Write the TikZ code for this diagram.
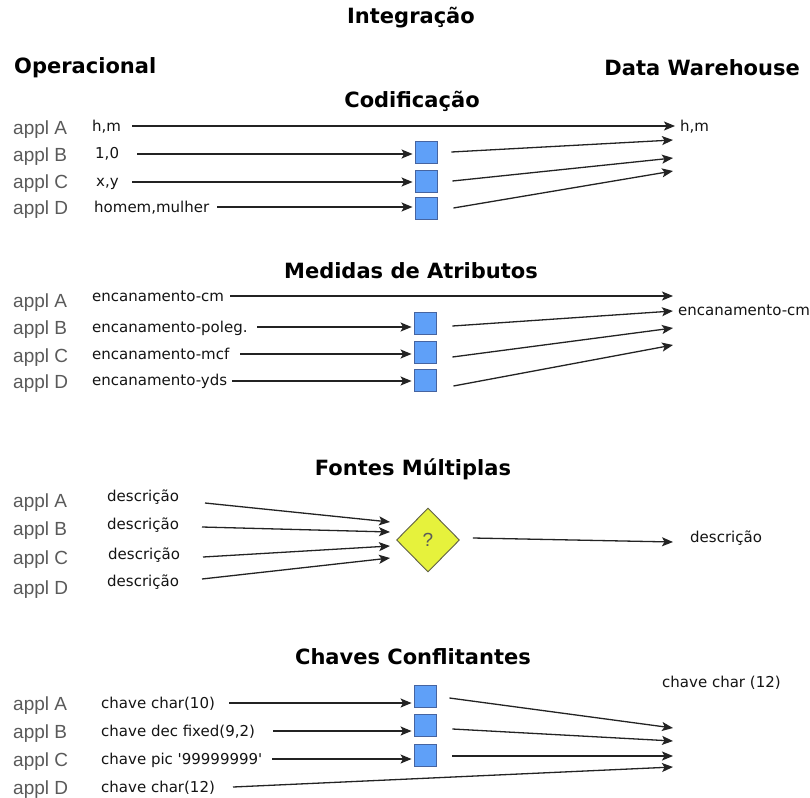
\documentclass[tikz,border=0pt]{standalone}
\usepackage{fontspec}
\usetikzlibrary{arrows.meta,shapes.geometric}
\newfontfamily\applfont{Liberation Sans}
\newfontfamily\valfont{DejaVu Sans}
\newfontfamily\headfont{DejaVu Sans}
\definecolor{boxblue}{RGB}{95,160,248}
\definecolor{boxedge}{RGB}{70,100,160}
\definecolor{diayellow}{RGB}{230,242,60}
\definecolor{diaedge}{RGB}{95,95,70}
\definecolor{appgray}{RGB}{90,90,90}
\definecolor{valink}{RGB}{20,20,20}
\definecolor{arrink}{RGB}{35,35,35}
\tikzset{
  head/.style={font=\headfont\bfseries\fontsize{21}{21}\selectfont, inner sep=0pt, text=black},
  appl/.style={font=\applfont\fontsize{19}{19}\selectfont, text=appgray, inner sep=0pt, anchor=base west},
  val/.style={font=\valfont\fontsize{15}{15}\selectfont, text=valink, inner sep=0pt, anchor=base west},
  conv/.style={draw=boxedge, fill=boxblue, line width=0.9pt, minimum width=22pt, minimum height=22pt, inner sep=0pt},
  merge/.style={diamond, aspect=1, draw=diaedge, fill=diayellow, line width=0.9pt, minimum width=63pt, minimum height=64pt, inner sep=0pt,
    font=\applfont\fontsize{19}{19}\selectfont, text=appgray},
  arr/.style={draw=arrink, line width=1.3pt, -{Stealth[length=11pt,width=9pt,inset=2.5pt]}},
}
\begin{document}
\begin{tikzpicture}[x=1pt,y=-1pt]
\useasboundingbox[fill=white] (0,0) rectangle (810,797);

% ---------- headings ----------
\node[head] (hInt) at (411,18) {Integração};
\node[head, anchor=west] (hOp) at (14,68) {Operacional};
\node[head, anchor=east] (hDW) at (800,68) {Data Warehouse};
\node[head] (hCod) at (412,101) {Codificação};
\node[head] (hMed) at (411,271) {Medidas de Atributos};
\node[head] (hFon) at (413,469) {Fontes Múltiplas};
\node[head] (hCha) at (413,657) {Chaves Conflitantes};

% ---------- Codificação ----------
\node[appl] (a1A) at (13,134) {appl A};
\node[appl] (a1B) at (13,161) {appl B};
\node[appl] (a1C) at (13,188) {appl C};
\node[appl] (a1D) at (13,214) {appl D};
\node[val] (v1A) at (92,131) {h,m};
\node[val] (v1B) at (95,158) {1,0};
\node[val] (v1C) at (96,186) {x,y};
\node[val] (v1D) at (94,212) {homem,mulher};
\node[conv] (b1B) at (426,152) {};
\node[conv] (b1C) at (426,181) {};
\node[conv] (b1D) at (426,208) {};
\node[val] (t1) at (680,131) {h,m};
\coordinate (s1A) at (132,126);
\coordinate (s1B) at (137,154);
\coordinate (s1C) at (132,182);
\coordinate (s1D) at (217,207);
\coordinate (e1A) at (675,126);
\coordinate (e1B) at (673,140);
\coordinate (e1C) at (673,158);
\coordinate (e1D) at (673,171);
\draw[arr] (s1A) -- (e1A);
\draw[arr, shorten >=2pt] (s1B) -- (s1B -| b1B.west);
\draw[arr, shorten >=2pt] (s1C) -- (s1C -| b1C.west);
\draw[arr, shorten >=2pt] (s1D) -- (s1D -| b1D.west);
\draw[arr] ([xshift=14pt]b1B.east) -- (e1B);
\draw[arr] ([xshift=15pt]b1C.east) -- (e1C);
\draw[arr] ([xshift=16pt]b1D.east) -- (e1D);

% ---------- Medidas de Atributos ----------
\node[appl] (a2A) at (13,307) {appl A};
\node[appl] (a2B) at (13,334) {appl B};
\node[appl] (a2C) at (13,362) {appl C};
\node[appl] (a2D) at (13,388) {appl D};
\node[val] (v2A) at (92,301) {encanamento-cm};
\node[val] (v2B) at (92,332) {encanamento-poleg.};
\node[val] (v2C) at (92,359) {encanamento-mcf};
\node[val] (v2D) at (92,385) {encanamento-yds};
\node[conv] (b2B) at (425,323) {};
\node[conv] (b2C) at (425,352) {};
\node[conv] (b2D) at (425,380) {};
\node[val] (t2) at (678,315) {encanamento-cm};
\coordinate (s2A) at (230,296);
\coordinate (s2B) at (257,327);
\coordinate (s2C) at (240,354);
\coordinate (s2D) at (232,381);
\coordinate (e2A) at (673,296);
\coordinate (e2B) at (673,311);
\coordinate (e2C) at (673,328);
\coordinate (e2D) at (673,345);
\draw[arr] (s2A) -- (e2A);
\draw[arr, shorten >=2pt] (s2B) -- (s2B -| b2B.west);
\draw[arr, shorten >=2pt] (s2C) -- (s2C -| b2C.west);
\draw[arr, shorten >=2pt] (s2D) -- (s2D -| b2D.west);
\draw[arr] ([xshift=16pt,yshift=-3pt]b2B.east) -- (e2B);
\draw[arr] ([xshift=16pt,yshift=-5pt]b2C.east) -- (e2C);
\draw[arr] ([xshift=17pt,yshift=-6pt]b2D.east) -- (e2D);

% ---------- Fontes Múltiplas ----------
\node[appl] (a3A) at (13,507) {appl A};
\node[appl] (a3B) at (13,535) {appl B};
\node[appl] (a3C) at (13,564) {appl C};
\node[appl] (a3D) at (13,594) {appl D};
\node[val] (v3A) at (107,501) {descrição};
\node[val] (v3B) at (107,529) {descrição};
\node[val] (v3C) at (108,559) {descrição};
\node[val] (v3D) at (107,586) {descrição};
\node[merge] (d3) at (428,540) {?};
\node[val] (t3) at (690,542) {descrição};
\coordinate (s3A) at (205,503);
\coordinate (s3B) at (202,527);
\coordinate (s3C) at (203,557);
\coordinate (s3D) at (202,579);
\coordinate (i3A) at (390,522);
\coordinate (i3B) at (390,532);
\coordinate (i3C) at (390,546);
\coordinate (i3D) at (390,558);
\coordinate (e3) at (673,542);
\draw[arr] (s3A) -- (i3A);
\draw[arr] (s3B) -- (i3B);
\draw[arr] (s3C) -- (i3C);
\draw[arr] (s3D) -- (i3D);
\draw[arr] ([xshift=13pt,yshift=2pt]d3.east) -- (e3);

% ---------- Chaves Conflitantes ----------
\node[appl] (a4A) at (13,710) {appl A};
\node[appl] (a4B) at (13,738) {appl B};
\node[appl] (a4C) at (13,766) {appl C};
\node[appl] (a4D) at (13,794) {appl D};
\node[val] (v4A) at (101,708) {chave char(10)};
\node[val] (v4B) at (101,736) {chave dec fixed(9,2)};
\node[val] (v4C) at (101,764) {chave pic '99999999'};
\node[val] (v4D) at (101,792) {chave char(12)};
\node[conv] (b4A) at (425,696) {};
\node[conv] (b4B) at (425,725) {};
\node[conv] (b4C) at (425,755) {};
\node[val] (t4) at (662,687) {chave char (12)};
\coordinate (s4A) at (229,703);
\coordinate (s4B) at (273,731);
\coordinate (s4C) at (272,759);
\coordinate (s4D) at (233,787);
\coordinate (e4A) at (673,728);
\coordinate (e4B) at (673,741);
\coordinate (e4C) at (673,756);
\coordinate (e4D) at (673,767);
\draw[arr, shorten >=2pt] (s4A) -- (s4A -| b4A.west);
\draw[arr, shorten >=2pt] (s4B) -- (s4B -| b4B.west);
\draw[arr, shorten >=2pt] (s4C) -- (s4C -| b4C.west);
\draw[arr] ([xshift=13pt,yshift=-2pt]b4A.east) -- (e4A);
\draw[arr] ([xshift=16pt,yshift=-4pt]b4B.east) -- (e4B);
\draw[arr] ([xshift=16pt,yshift=-1pt]b4C.east) -- (e4C);
\draw[arr] (s4D) -- (e4D);
\end{tikzpicture}
\end{document}
